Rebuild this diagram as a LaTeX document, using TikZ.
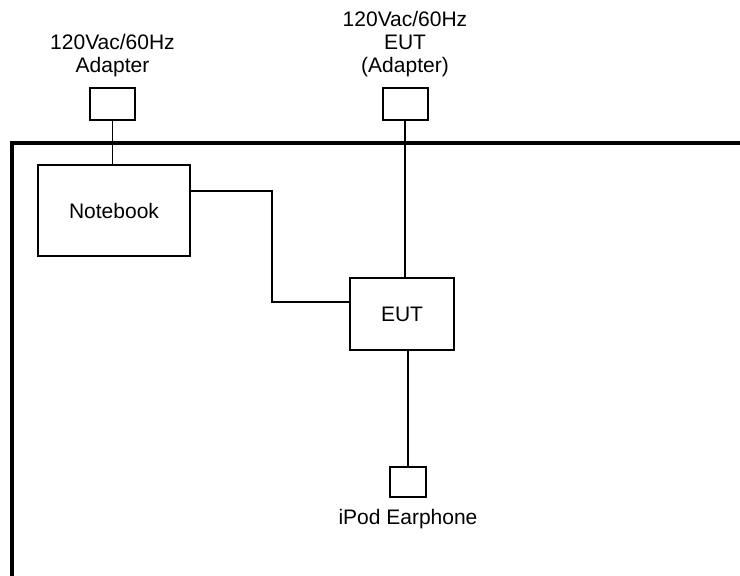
\documentclass[tikz,border=0pt]{standalone}
\usepackage{fontspec}
\setmainfont{Liberation Sans}
\usetikzlibrary{positioning,
	calc}

\begin{document}
\begin{tikzpicture}[x=1pt, y=-1pt, font=\fontsize{21}{23}\selectfont,
	block/.style={draw, line width=2pt, inner sep=0pt},
	port/.style={draw, line width=2pt, inner sep=0pt, minimum width=45pt, minimum height=32pt},
	wire/.style={line width=1.4pt},
	caption/.style={align=center, inner sep=0pt}]
	\useasboundingbox (0,0) rectangle (740,576);
	% shielded room wall
	\draw[line width=4pt] (760,143) -- (12,143) -- (12,600);
	\node[block, minimum width=152pt, minimum height=91pt] (nb) at (114,210.5) {Notebook};
	\node[block, minimum width=104pt, minimum height=72pt] (eut) at (402,314) {EUT};
	\node[port] (adpA) at (112.5,104) {};
	\node[port] (adpB) at (405,104) {};
	\node[port, minimum width=36pt, minimum height=30pt] (ear) at (408,482) {};
	\node[caption, above=10pt of adpA] (capA) {120Vac/60Hz\\Adapter};
	\node[caption, above=10pt of adpB] (capB) {120Vac/60Hz\\EUT\\(Adapter)};
	\node[caption, below=11pt of ear] (capE) {iPod Earphone};
	\coordinate (jog) at (272,246);
	\draw[wire] (adpA.south) -- (adpA.south |- nb.north);
	\draw[wire] (adpB.south) -- (adpB.south |- eut.north);
	\draw[wire] (ear.north) -- (ear.north |- eut.south);
	\draw[wire] ([yshift=19.5pt]nb.east) -| (jog) |- ([yshift=12pt]eut.west);
\end{tikzpicture}
\end{document}
